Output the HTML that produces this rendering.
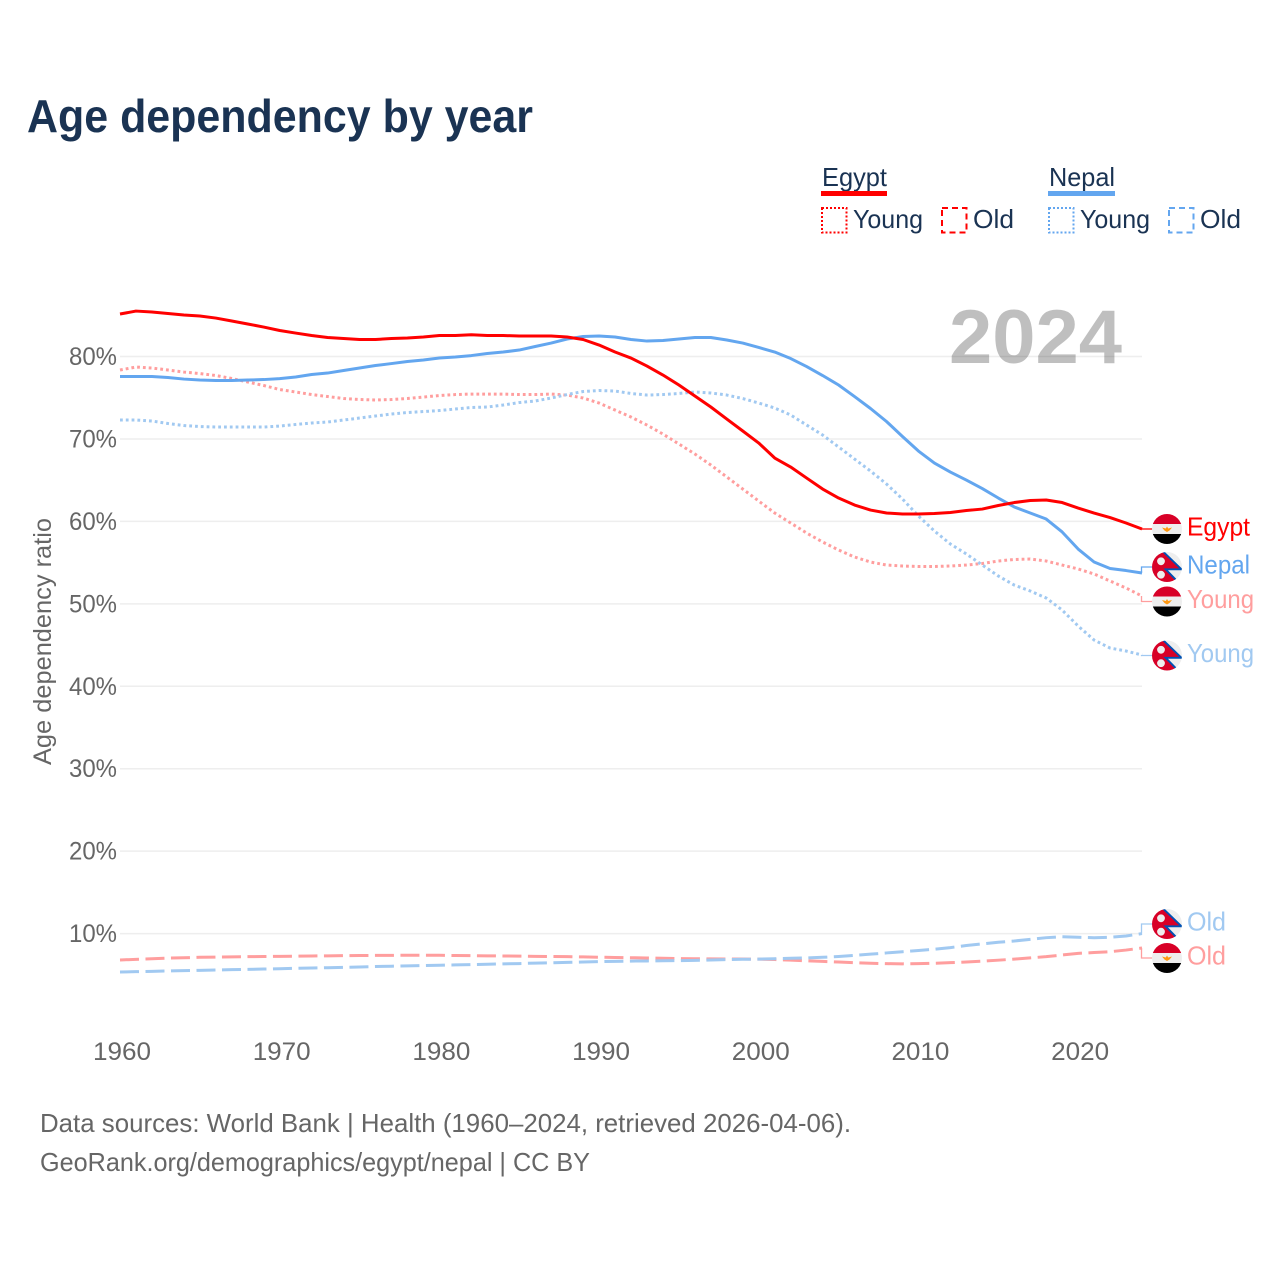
<!DOCTYPE html>
<html lang="en">
<head>
<meta charset="utf-8">
<title>Age dependency by year</title>
<style>
html,body{margin:0;padding:0;background:#fff;}
svg{display:block;font-family:"Liberation Sans",sans-serif;}
</style>
</head>
<body>
<svg id="chart" xmlns="http://www.w3.org/2000/svg" width="1280" height="1280" viewBox="0 0 1280 1280">
  <defs>
    <clipPath id="flag-clip"><circle cx="0" cy="0" r="15"/></clipPath>
    <g id="egypt-flag" clip-path="url(#flag-clip)">
      <rect x="-15" y="-15" width="30" height="10" fill="#d80027"/>
      <rect x="-15" y="-5" width="30" height="10" fill="#eeeeee"/>
      <rect x="-15" y="5" width="30" height="10" fill="#000000"/>
      <path d="M-5 -1.5 L-1.2 -0.5 L0 -2.5 L1.2 -0.5 L5 -1.5 L2.5 1.5 L0 3 L-2.5 1.5 Z" fill="#ff9811"/>
    </g>
    <g id="nepal-flag" clip-path="url(#flag-clip)">
      <rect x="-15" y="-15" width="30" height="30" fill="#eeeeee"/>
      <path d="M-16 -16 L-4.5 -16 L14.5 2.3 L-1.3 2.3 L12 16 L-16 16 Z" fill="#d80027"/>
      <path d="M-4.5 -16 L14.5 2.3 L-1.3 2.3 L12 16" fill="none" stroke="#0052b4" stroke-width="1.9"/>
      <circle cx="-6" cy="-5.7" r="3.9" fill="#eeeeee"/>
      <circle cx="-6" cy="7.7" r="3.9" fill="#eeeeee"/>
    </g>
  </defs>

  <text x="27" y="132" font-size="46" font-weight="700" fill="#1a3353" textLength="506" lengthAdjust="spacingAndGlyphs">Age dependency by year</text>

  <g>
    <text x="822" y="186" font-size="26" fill="#1a3353" textLength="65" lengthAdjust="spacingAndGlyphs">Egypt</text>
    <rect x="821" y="191" width="66" height="5" fill="#ff0000"/>
    <rect x="822" y="208" width="24.5" height="24.5" fill="none" stroke="#ff0000" stroke-width="2" stroke-dasharray="2 2"/>
    <text x="853" y="228" font-size="26" fill="#1a3353" textLength="70" lengthAdjust="spacingAndGlyphs">Young</text>
    <rect x="942" y="208" width="24.5" height="24.5" fill="none" stroke="#ff0000" stroke-width="2" stroke-dasharray="6 4"/>
    <text x="973" y="228" font-size="26" fill="#1a3353" textLength="41" lengthAdjust="spacingAndGlyphs">Old</text>

    <text x="1049" y="186" font-size="26" fill="#1a3353" textLength="66" lengthAdjust="spacingAndGlyphs">Nepal</text>
    <rect x="1048" y="191" width="67" height="5" fill="#63a6ef"/>
    <rect x="1049" y="208" width="24.5" height="24.5" fill="none" stroke="#63a6ef" stroke-width="2" stroke-dasharray="2 2"/>
    <text x="1080" y="228" font-size="26" fill="#1a3353" textLength="70" lengthAdjust="spacingAndGlyphs">Young</text>
    <rect x="1169" y="208" width="24.5" height="24.5" fill="none" stroke="#63a6ef" stroke-width="2" stroke-dasharray="6 4"/>
    <text x="1200" y="228" font-size="26" fill="#1a3353" textLength="41" lengthAdjust="spacingAndGlyphs">Old</text>
  </g>

  <g id="grid"></g>
  <text x="949" y="363" font-size="76" font-weight="700" fill="#000000" fill-opacity="0.25" textLength="173" lengthAdjust="spacingAndGlyphs">2024</text>
  <g id="y-ticks"></g>
  <g id="x-ticks"></g>
  <text transform="translate(51,765) rotate(-90)" x="0" y="0" font-size="25" fill="#666666" textLength="247" lengthAdjust="spacingAndGlyphs">Age dependency ratio</text>
  <g id="series"></g>
  <g id="end-labels"></g>

  <text x="40" y="1132" font-size="26" fill="#666666" textLength="811" lengthAdjust="spacingAndGlyphs">Data sources: World Bank | Health (1960–2024, retrieved 2026-04-06).</text>
  <text x="40" y="1171" font-size="26" fill="#666666" textLength="550" lengthAdjust="spacingAndGlyphs">GeoRank.org/demographics/egypt/nepal | CC BY</text>
</svg>

<script>
const firstYear = 1960;
const xTickLabels = [1960, 1970, 1980, 1990, 2000, 2010, 2020];
const yTickLabels = [10, 20, 30, 40, 50, 60, 70, 80];

const egyptTotal = [85.16,85.52,85.40,85.22,85.04,84.92,84.67,84.31,83.95,83.58,
  83.16,82.85,82.55,82.31,82.19,82.07,82.07,82.19,82.25,82.37,
  82.55,82.55,82.64,82.55,82.55,82.49,82.49,82.49,82.37,82.07,
  81.40,80.55,79.82,78.85,77.76,76.55,75.21,73.88,72.42,70.97,
  69.51,67.69,66.60,65.26,63.93,62.84,61.99,61.38,61.02,60.90,
  60.90,60.96,61.08,61.32,61.50,61.93,62.29,62.54,62.60,62.29,
  61.62,61.02,60.47,59.81,59.08];
const nepalTotal = [77.58,77.58,77.58,77.46,77.27,77.15,77.09,77.09,77.15,77.21,
  77.33,77.52,77.82,78.00,78.31,78.61,78.91,79.15,79.40,79.58,
  79.82,79.94,80.12,80.37,80.55,80.79,81.22,81.64,82.13,82.43,
  82.49,82.37,82.07,81.88,81.95,82.13,82.31,82.31,82.01,81.64,
  81.10,80.55,79.76,78.79,77.70,76.55,75.15,73.70,72.12,70.30,
  68.54,67.08,65.99,65.02,63.99,62.84,61.75,61.02,60.29,58.72,
  56.65,55.08,54.29,54.04,53.74];
const egyptYoung = [78.37,78.73,78.61,78.37,78.12,77.94,77.70,77.34,76.91,76.49,
  76.00,75.70,75.39,75.15,74.91,74.79,74.73,74.79,74.91,75.09,
  75.27,75.39,75.45,75.45,75.45,75.39,75.39,75.45,75.33,74.97,
  74.36,73.51,72.66,71.69,70.60,69.39,68.18,66.84,65.39,63.93,
  62.47,61.02,59.81,58.59,57.50,56.53,55.68,55.07,54.71,54.59,
  54.53,54.53,54.59,54.71,54.89,55.20,55.38,55.44,55.20,54.71,
  54.23,53.62,52.77,51.92,50.95];
const nepalYoung = [72.30,72.30,72.18,71.88,71.63,71.51,71.45,71.45,71.45,71.45,
  71.57,71.76,71.94,72.06,72.30,72.54,72.79,73.03,73.21,73.33,
  73.45,73.64,73.82,73.88,74.12,74.42,74.61,74.97,75.39,75.76,
  75.88,75.82,75.52,75.33,75.39,75.52,75.70,75.58,75.33,74.91,
  74.36,73.76,72.91,71.69,70.48,69.03,67.57,66.11,64.54,62.72,
  60.66,58.84,57.26,56.05,54.71,53.38,52.28,51.56,50.71,49.25,
  47.31,45.61,44.64,44.28,43.79];
const egyptOld = [6.80,6.87,6.95,7.02,7.07,7.12,7.15,7.18,7.20,7.22,
  7.24,7.26,7.28,7.30,7.32,7.34,7.35,7.36,7.37,7.37,
  7.37,7.34,7.32,7.30,7.28,7.26,7.24,7.22,7.20,7.17,
  7.13,7.10,7.07,7.04,7.00,6.97,6.95,6.93,6.92,6.91,
  6.90,6.85,6.78,6.70,6.62,6.55,6.47,6.40,6.35,6.33,
  6.35,6.40,6.47,6.55,6.65,6.77,6.90,7.05,7.20,7.40,
  7.60,7.70,7.80,8.00,8.25];
const nepalOld = [5.34,5.38,5.42,5.46,5.50,5.54,5.58,5.62,5.66,5.70,
  5.74,5.78,5.82,5.86,5.90,5.95,6.00,6.04,6.08,6.12,
  6.16,6.20,6.24,6.28,6.32,6.36,6.42,6.46,6.50,6.55,
  6.60,6.63,6.66,6.68,6.70,6.72,6.75,6.80,6.85,6.88,
  6.90,6.95,7.00,7.05,7.12,7.22,7.35,7.50,7.65,7.80,
  7.95,8.10,8.30,8.55,8.75,8.95,9.10,9.30,9.50,9.62,
  9.55,9.50,9.55,9.70,10.00];

const SVG_NS = 'http://www.w3.org/2000/svg';
function xScale(year) { return 120 + (year - firstYear) * (1022 / 64); }
function yScale(value) { return 1016 - value * 8.243; }
function make(tag, parent) {
  const el = document.createElementNS(SVG_NS, tag);
  parent.appendChild(el);
  return el;
}

const gridLayer = document.getElementById('grid');
const yTickLayer = document.getElementById('y-ticks');
const xTickLayer = document.getElementById('x-ticks');
const seriesLayer = document.getElementById('series');
const labelLayer = document.getElementById('end-labels');

yTickLabels.forEach(function (tick) {
  const line = make('line', gridLayer);
  
  
  line.setAttribute('x1', xScale(firstYear));
  line.setAttribute('x2', 1142);
  line.setAttribute('y1', yScale(tick));
  line.setAttribute('y2', yScale(tick));
  line.setAttribute('stroke', '#eeeeee');
  line.setAttribute('stroke-width', '1.5');

  const label = make('text', yTickLayer);
  
  
  label.setAttribute('x', 69);
  label.setAttribute('y', yScale(tick) + 8.5);
  label.setAttribute('font-size', '25');
  label.setAttribute('fill', '#666666');
  label.setAttribute('textLength', '48');
  label.setAttribute('lengthAdjust', 'spacingAndGlyphs');
  label.textContent = tick + '%';
});

xTickLabels.forEach(function (tick) {
  const label = make('text', xTickLayer);
  
  
  label.setAttribute('x', xScale(tick) - 27);
  label.setAttribute('y', 1060);
  label.setAttribute('font-size', '25');
  label.setAttribute('fill', '#666666');
  label.setAttribute('textLength', '58');
  label.setAttribute('lengthAdjust', 'spacingAndGlyphs');
  label.textContent = String(tick);
});

const seriesList = [
  { key: 'egypt-old', values: egyptOld, color: '#ff9e9e', dash: '19 6.5', flag: 'egypt-flag', text: 'Old', flagY: 958, width: 39 },
  { key: 'nepal-old', values: nepalOld, color: '#a1c9f1', dash: '19 6.5', flag: 'nepal-flag', text: 'Old', flagY: 924, width: 39 },
  { key: 'egypt-young', values: egyptYoung, color: '#ff9e9e', dash: '2.8 3', flag: 'egypt-flag', text: 'Young', flagY: 601.5, width: 67 },
  { key: 'nepal-young', values: nepalYoung, color: '#a1c9f1', dash: '2.8 3', flag: 'nepal-flag', text: 'Young', flagY: 655.5, width: 67 },
  { key: 'nepal-total', values: nepalTotal, color: '#63a6ef', dash: '', flag: 'nepal-flag', text: 'Nepal', flagY: 567, width: 63 },
  { key: 'egypt-total', values: egyptTotal, color: '#ff0000', dash: '', flag: 'egypt-flag', text: 'Egypt', flagY: 529, width: 63 }
];

seriesList.forEach(function (s) {
  const points = s.values.map(function (v, i) {
    return xScale(firstYear + i).toFixed(2) + ',' + yScale(v).toFixed(2);
  }).join(' ');

  const path = make('polyline', seriesLayer);
  
  
  path.setAttribute('points', points);
  path.setAttribute('fill', 'none');
  path.setAttribute('stroke', s.color);
  path.setAttribute('stroke-width', '3');
  path.setAttribute('stroke-linejoin', 'round');
  if (s.dash) path.setAttribute('stroke-dasharray', s.dash);

  const endY = yScale(s.values[s.values.length - 1]);
  const connector = make('polyline', labelLayer);
  
  
  connector.setAttribute('points', '1141.5,' + endY.toFixed(2) + ' 1141.5,' + s.flagY + ' 1153,' + s.flagY);
  connector.setAttribute('fill', 'none');
  connector.setAttribute('stroke', s.color);
  connector.setAttribute('stroke-width', '1.3');

  const flag = make('use', labelLayer);
  
  
  flag.setAttribute('href', '#' + s.flag);
  flag.setAttribute('transform', 'translate(1167,' + s.flagY + ')');

  const label = make('text', labelLayer);
  
  
  label.setAttribute('x', 1187);
  label.setAttribute('y', s.flagY + 6.5);
  label.setAttribute('font-size', '26');
  label.setAttribute('fill', s.color);
  label.setAttribute('textLength', s.width);
  label.setAttribute('lengthAdjust', 'spacingAndGlyphs');
  label.textContent = s.text;
});
</script>
</body>
</html>
